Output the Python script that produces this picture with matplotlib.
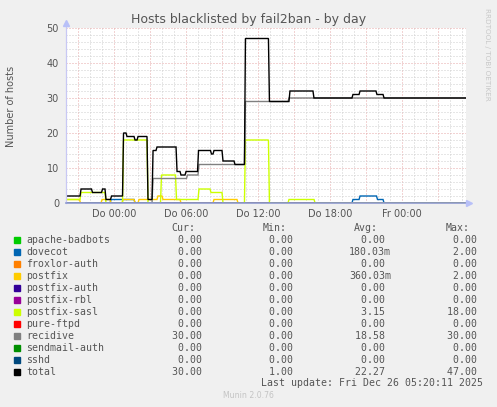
import numpy as np
import matplotlib.pyplot as plt
from matplotlib.patches import Rectangle

W, H = 497, 407

# time axis in hours relative to "Do 00:00" (graph spans Mi 20:00 .. Fr 05:20)
t_start, t_end = -4.0, 29.333
tick_hours = [0, 6, 12, 18, 24]
tick_labels = ["Do 00:00", "Do 06:00", "Do 12:00", "Do 18:00", "Fr 00:00"]

names = ["apache-badbots", "dovecot", "froxlor-auth", "postfix", "postfix-auth",
         "postfix-rbl", "postfix-sasl", "pure-ftpd", "recidive", "sendmail-auth",
         "sshd", "total"]
colors = ["#00CC00", "#0066B3", "#FF8000", "#FFCC00", "#330099", "#990099",
          "#CCFF00", "#FF0000", "#808080", "#008F00", "#00487D", "#000000"]

# step series: times where the value changes, and the new value
dovecot_t = [-4.0, -0.33, 1.67, 19.83, 20.42, 21.875, 22.42]
dovecot_v = [0, 1, 0, 1, 2, 1, 0]

postfix_t = [-4.0, -2.875, -1.08, -0.33, 0.67, 1.67, 2.0, 3.58, 4.0, 5.5, 8.25, 10.25]
postfix_v = [1, 0, 1, 0, 1, 0, 1, 2, 1, 0, 1, 0]

sasl_t = [-4.0, -2.83, -0.75, 0.71, 2.75, 3.875, 5.125, 7.0, 8.0, 9.0, 10.87, 12.87, 14.5, 16.67]
sasl_v = [1, 3, 0, 18, 0, 8, 1, 4, 3, 0, 18, 0, 1, 0]

recidive_t = [-4.0, 3.17, 6.04, 7.0, 10.87, 14.5]
recidive_v = [0, 7, 8, 11, 29, 30]

total_t = [-4.0, -2.83, -1.875, -1.04, -0.75, -0.29, 0.71, 1.0, 1.67, 1.92, 2.75,
           3.17, 3.5, 5.17, 5.5, 5.92, 6.96, 8.04, 8.25, 9.0, 10.0, 10.87, 12.87,
           14.58, 16.58, 19.83, 20.42, 21.83, 22.42]
total_v = [2, 4, 3, 4, 1, 2, 20, 19, 18, 19, 1, 15, 16, 9, 8, 9, 15, 14, 15, 12, 11,
           47, 29, 32, 30, 31, 32, 31, 30]

zero_t, zero_v = [-4.0], [0]
series = [(zero_t, zero_v), (dovecot_t, dovecot_v), (zero_t, zero_v),
          (postfix_t, postfix_v), (zero_t, zero_v), (zero_t, zero_v),
          (sasl_t, sasl_v), (zero_t, zero_v), (recidive_t, recidive_v),
          (zero_t, zero_v), (zero_t, zero_v), (total_t, total_v)]

cur_vals = [0, 0, 0, 0, 0, 0, 0, 0, 30, 0, 0, 30]
min_vals = [0, 0, 0, 0, 0, 0, 0, 0, 0, 0, 0, 1]
avg_vals = [0, 0.18003, 0, 0.36003, 0, 0, 3.15, 0, 18.58, 0, 0, 22.27]
max_vals = [0, 2, 0, 2, 0, 0, 18, 0, 30, 0, 0, 47]

TXT = "#555555"


def ramp(ts, vs):
    # rrdtool-like line: each change takes one 5-minute step
    xs, ys = [ts[0]], [vs[0]]
    for t, v in zip(ts[1:], vs[1:]):
        xs += [t, t + 1 / 12]
        ys += [ys[-1], v]
    xs.append(t_end)
    ys.append(vs[-1])
    return xs, ys


def fmt(v):
    if 0 < v < 1:
        return f"{v * 1000:.2f}m"
    return f"{v:.2f} "


def fx(x):
    return x / W


def fy(y):
    return 1 - y / H


fig = plt.figure(figsize=(W / 100, H / 100), dpi=100, facecolor="#F0F0F0")
ax = fig.add_axes([fx(66), fy(203), 400 / W, 175 / H])
ax.set_facecolor("white")
ax.set_xlim(t_start, t_end)
ax.set_ylim(0, 50)

# grid: minor every hour / 2 units, major every 3 hours / 10 units
dots = (0, (1, 2))
for h in np.arange(-3, 30, 1):
    major = h % 3 == 0
    ax.axvline(h, color="#e6a8a8" if major else "#cfcfcf", lw=0.72, ls=dots, zorder=0)
for v in range(2, 51, 2):
    major = v % 10 == 0
    ax.axhline(v, color="#e6a8a8" if major else "#cfcfcf", lw=0.72, ls=dots, zorder=0)

for (ts, vs), c in zip(series, colors):
    xs, ys = ramp(ts, vs)
    ax.plot(xs, ys, color=c, lw=1.0, solid_joinstyle="miter", zorder=2)

for s in ax.spines.values():
    s.set_visible(False)
# axes lines with arrows
ax.plot([0, 0], [0, 1.03], transform=ax.transAxes, color="#c8c8f4", lw=0.9,
        clip_on=False, zorder=3)
ax.plot([0, 1.005], [0, 0], transform=ax.transAxes, color="#8f9ad0", lw=1.2,
        clip_on=False, zorder=3)
ax.plot([0], [1.03], marker="^", ms=4, color="#b8c0f8", transform=ax.transAxes,
        clip_on=False, zorder=3)
ax.plot([1.008], [0], marker=">", ms=4, color="#b8c0f8", transform=ax.transAxes,
        clip_on=False, zorder=3)

ax.set_xticks(tick_hours, tick_labels)
ax.set_yticks(range(0, 51, 10))
ax.tick_params(length=0, labelsize=7, colors=TXT)
ax.tick_params(axis="x", pad=4)
ax.tick_params(axis="y", pad=5)

fig.text(fx(249), fy(19), "Hosts blacklisted by fail2ban - by day", ha="center",
         va="center", fontsize=9, color=TXT)
fig.text(fx(11), fy(106), "Number of hosts", rotation=90, ha="center", va="center",
         fontsize=7, color=TXT)
fig.text(fx(487), fy(54), "RRDTOOL / TOBI OETIKER", rotation=270, ha="center",
         va="center", fontsize=5.2, color="#c8c8c8")

# legend table
mono = dict(family="DejaVu Sans Mono", fontsize=7.1, color=TXT, va="center")
cols = [(195, 207.6, "Cur:", cur_vals), (286.7, 299.3, "Min:", min_vals),
        (378.3, 391, "Avg:", avg_vals), (470, 482.6, "Max:", max_vals)]
for hx, vx, head, vals in cols:
    fig.text(fx(hx), fy(228.3), head, ha="right", **mono)
    for i, v in enumerate(vals):
        fig.text(fx(vx), fy(239.7 + 12 * i), fmt(v), ha="right", **mono)
for i, (n, c) in enumerate(zip(names, colors)):
    y = 239.7 + 12 * i
    fig.add_artist(Rectangle((fx(14), fy(y + 3)), 6 / W, 6 / H, color=c,
                             transform=fig.transFigure))
    fig.text(fx(26), fy(y), n, ha="left", **mono)
fig.text(fx(482.7), fy(383.3), "Last update: Fri Dec 26 05:20:11 2025", ha="right", **mono)
fig.text(fx(248), fy(396), "Munin 2.0.76", ha="center", va="center", fontsize=5.6,
         color="#c4c4c4")

fig.savefig("out.png", dpi=100, facecolor=fig.get_facecolor())
